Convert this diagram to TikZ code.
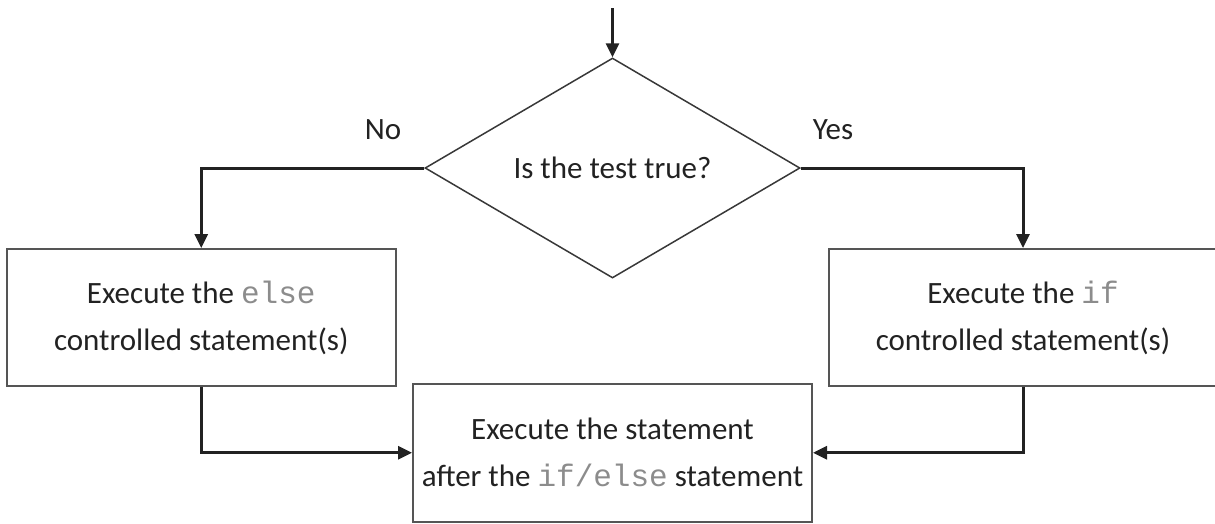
\documentclass[tikz,border=0pt]{standalone}
\usepackage{fontspec}
\setmainfont{Carlito}
\setmonofont{Liberation Mono}
\usetikzlibrary{shapes.geometric,arrows.meta}
\definecolor{ink}{HTML}{222222}
\definecolor{edge}{HTML}{555555}
\definecolor{codegray}{HTML}{8C8C8C}
\newcommand{\code}[1]{{\ttfamily\color{codegray}#1}}
\begin{document}
\begin{tikzpicture}[x=1pt,y=-1pt,
  every node/.style={font=\fontsize{31}{47}\selectfont, text=ink},
  procbox/.style={draw=edge, line width=2pt, rectangle, align=center, inner sep=0pt},
  decision/.style={draw=ink!90, line width=1.5pt, diamond, aspect=1.7, inner sep=0pt,
    minimum width=375pt, minimum height=220pt},
  flow/.style={draw=ink, line width=3pt, -{Triangle[length=14pt,width=13pt]}},
  lbl/.style={inner sep=0pt}]
\useasboundingbox (0,0) rectangle (1215,523);
\node[decision] (dia) at (612.5,168) {Is the test true?};
\node[procbox, minimum width=389.5pt, minimum height=137pt] (lbox) at (201.25,317.5)
  {Execute the \code{else}\\controlled statement(s)};
\node[procbox, minimum width=388pt, minimum height=137pt] (rbox) at (1023,317.5)
  {Execute the \code{if}\\controlled statement(s)};
\node[procbox, minimum width=399pt, minimum height=137.5pt] (bbox) at (612.5,452.75)
  {Execute the statement\\after the \code{if/else} statement};
\node[lbl] (lno) at (383,130) {No};
\node[lbl] (lyes) at (833,130) {Yes};
\coordinate (start) at (612.5,8);
\draw[flow] (start) -- (dia.north);
\draw[flow] (dia.west) -| (lbox.north);
\draw[flow] (dia.east) -| (rbox.north);
\draw[flow] (lbox.south) |- (bbox.west);
\draw[flow] (rbox.south) |- (bbox.east);
\end{tikzpicture}
\end{document}
